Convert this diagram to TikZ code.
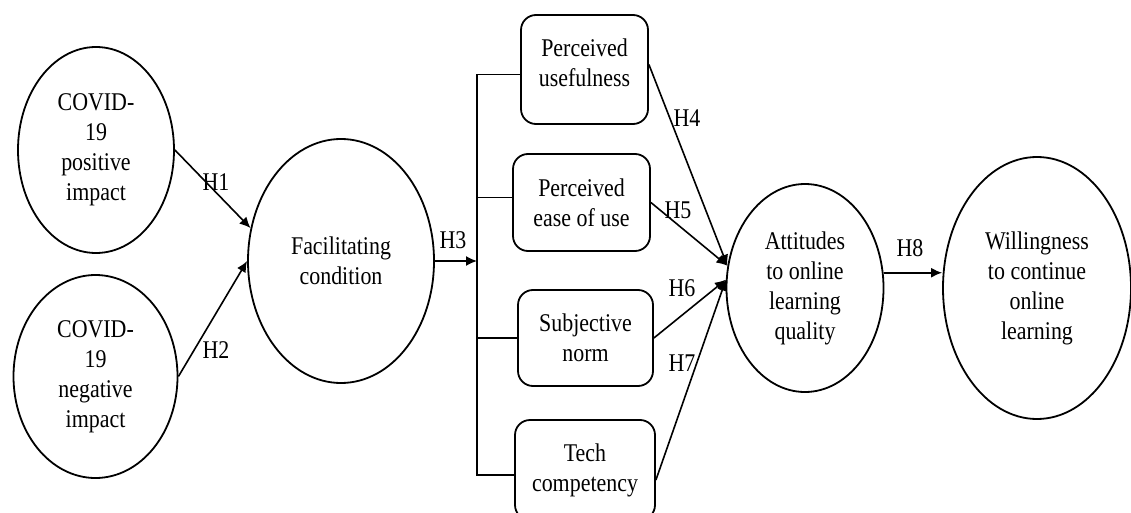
\documentclass[tikz,border=0pt]{standalone}
\usepackage{fontspec}
\setmainfont{Liberation Serif}[FakeStretch=0.86]
\usetikzlibrary{arrows.meta,calc,shapes.geometric}
\begin{document}
\begin{tikzpicture}[x=1pt,y=-1pt,
  every node/.style={font=\fontsize{25.5}{30}\selectfont, align=center, inner sep=0pt},
  ell/.style={draw, ellipse, line width=1.8pt},
  box/.style={draw, rounded corners=15pt, line width=1.8pt},
  con/.style={line width=1.8pt},
  arr/.style={line width=1.6pt, -{Latex[length=11pt,width=10pt]}},
  lab/.style={}]
\useasboundingbox (0,0) rectangle (1131,513);
% ellipses
\node[ell, minimum width=156pt, minimum height=206pt] (pos) at (96,150) {COVID-\\19\\positive\\impact};
\node[ell, minimum width=164pt, minimum height=203pt] (neg) at (95.5,376.5) {COVID-\\19\\negative\\impact};
\node[ell, minimum width=186pt, minimum height=244pt] (fac) at (341,261) {Facilitating\\condition};
\node[ell, minimum width=157pt, minimum height=208pt] (att) at (805,288) {Attitudes\\to online\\learning\\quality};
\node[ell, minimum width=188pt, minimum height=262pt] (wil) at (1037,288) {Willingness\\to continue\\online\\learning};
% boxes
\node[box, minimum width=127pt, minimum height=109pt] (b1) at (584.5,69.5) {};
\node (t1) at ($(b1.center)+(0,-7)$) {Perceived\\usefulness};
\node[box, minimum width=137pt, minimum height=97pt] (b2) at (581.5,202.5) {Perceived\\ease of use};
\node[box, minimum width=135pt, minimum height=96pt] (b3) at (585.5,338) {Subjective\\norm};
\node[box, minimum width=140pt, minimum height=100pt] (b4) at (585,470) {Tech\\competency};
% bracket
\coordinate (br) at (477,262);
\draw[con] ($(b1.west)+(0,5)$) -- ($(b1.west -| br)+(0,5)$) -- ($(b4.west -| br)+(0,5)$) -- ($(b4.west)+(0,5)$);
\draw[con] ($(b2.west)+(0,-5)$) -- ($(b2.west -| br)+(0,-5)$);
\draw[con] (b3.west) -- (b3.west -| br);
% arrows
\draw[arr] (pos.east) -- (fac.160);
\draw[arr] (neg.east) -- (fac.west);
\draw[arr] (fac.east) -- (fac.east -| br);
\draw[arr] ($(b1.east)+(0,-5)$) -- (att.164);
\draw[arr] (b2.east) -- (att.164);
\draw[arr] (b3.east) -- (att.174);
\draw[arr] ($(b4.east)+(0,10)$) -- (att.174);
\draw[arr] (att.11) -- (att.11 -| wil.west);
% labels
\node[lab] (h1) at (216,182) {H1};
\node[lab] (h2) at (216,350) {H2};
\node[lab] (h3) at (453,240) {H3};
\node[lab] (h4) at (687,118) {H4};
\node[lab] (h5) at (678,210) {H5};
\node[lab] (h6) at (682,288) {H6};
\node[lab] (h7) at (682,363) {H7};
\node[lab] (h8) at (910,248) {H8};
\end{tikzpicture}
\end{document}
